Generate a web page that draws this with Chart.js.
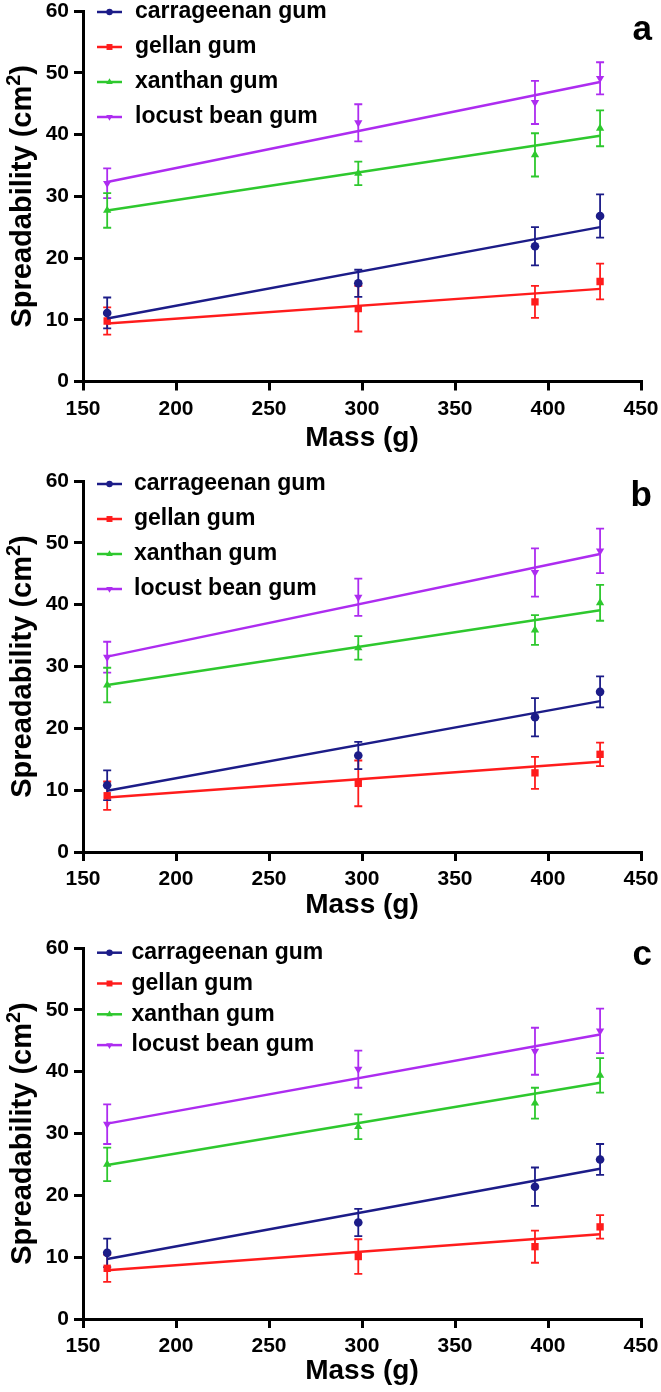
<!DOCTYPE html>
<html>
<head>
<meta charset="utf-8">
<script src="https://cdn.jsdelivr.net/npm/chart.js@4.4.1/dist/chart.umd.min.js"></script>
<style>
html,body{margin:0;padding:0;background:#fff;}
body{width:661px;height:1392px;position:relative;overflow:hidden;}
.panel{position:absolute;left:0;width:661px;}
canvas{display:block;}
</style>
</head>
<body>
<div class="panel" style="top:0px;height:464px"><canvas id="c0" width="661" height="464"></canvas></div>
<div class="panel" style="top:464px;height:466px"><canvas id="c1" width="661" height="466"></canvas></div>
<div class="panel" style="top:930px;height:462px"><canvas id="c2" width="661" height="462"></canvas></div>
<script>
// ---------- DATA ----------
const massX = [163, 298, 393, 428];
const fitX = [163, 428];
const xTickValues = [150, 200, 250, 300, 350, 400, 450];
const yTickValues = [0, 10, 20, 30, 40, 50, 60];
const seriesNames = ['carrageenan gum', 'gellan gum', 'xanthan gum', 'locust bean gum'];
const panelLetters = ['a', 'b', 'c'];
const xTitle = 'Mass (g)';
const yTitleMain = 'Spreadability (cm';
const yTitleSup = '2';
const yTitleEnd = ')';

// Panel a
const carrageenanA = [11.1, 15.9, 21.9, 26.8];
const carrageenanErrA = [2.5, 2.2, 3.1, 3.5];
const carrageenanFitA = [10.2, 25.0];
const gellanA = [9.8, 11.8, 12.9, 16.2];
const gellanErrA = [2.2, 3.7, 2.6, 2.9];
const gellanFitA = [9.4, 15.0];
const xanthanA = [27.7, 33.7, 36.7, 41.0];
const xanthanErrA = [2.8, 1.9, 3.5, 2.9];
const xanthanFitA = [27.7, 39.8];
const locustA = [32.1, 41.9, 45.2, 49.1];
const locustErrA = [2.4, 3.0, 3.5, 2.6];
const locustFitA = [32.3, 48.5];

// Panel b
const carrageenanB = [10.8, 15.6, 21.8, 25.9];
const carrageenanErrB = [2.4, 2.2, 3.1, 2.5];
const carrageenanFitB = [9.9, 24.4];
const gellanB = [9.1, 11.1, 12.8, 15.8];
const gellanErrB = [2.3, 3.7, 2.6, 1.9];
const gellanFitB = [8.8, 14.6];
const xanthanB = [27.0, 33.0, 35.9, 40.3];
const xanthanErrB = [2.8, 1.9, 2.4, 2.9];
const xanthanFitB = [27.0, 39.1];
const locustB = [31.5, 41.2, 45.2, 48.7];
const locustErrB = [2.5, 3.0, 3.9, 3.6];
const locustFitB = [31.6, 48.2];

// Panel c
const carrageenanC = [10.7, 15.6, 21.4, 25.8];
const carrageenanErrC = [2.3, 2.2, 3.1, 2.5];
const carrageenanFitC = [9.7, 24.3];
const gellanC = [8.2, 10.1, 11.7, 14.9];
const gellanErrC = [2.2, 2.8, 2.6, 1.9];
const gellanFitC = [7.9, 13.7];
const xanthanC = [25.0, 31.1, 34.9, 39.4];
const xanthanErrC = [2.7, 2.0, 2.5, 2.8];
const xanthanFitC = [24.9, 38.2];
const locustC = [31.5, 40.4, 43.3, 46.6];
const locustErrC = [3.2, 3.0, 3.8, 3.6];
const locustFitC = [31.6, 46.0];

const panelMeans = [
  [carrageenanA, gellanA, xanthanA, locustA],
  [carrageenanB, gellanB, xanthanB, locustB],
  [carrageenanC, gellanC, xanthanC, locustC]
];
const panelErrs = [
  [carrageenanErrA, gellanErrA, xanthanErrA, locustErrA],
  [carrageenanErrB, gellanErrB, xanthanErrB, locustErrB],
  [carrageenanErrC, gellanErrC, xanthanErrC, locustErrC]
];
const panelFits = [
  [carrageenanFitA, gellanFitA, xanthanFitA, locustFitA],
  [carrageenanFitB, gellanFitB, xanthanFitB, locustFitB],
  [carrageenanFitC, gellanFitC, xanthanFitC, locustFitC]
];

// ---------- STYLE / LAYOUT ----------
const FONT = "'Liberation Sans', Arial, sans-serif";
const seriesColors = ['#1c1c88', '#ff1c1c', '#2ec82e', '#ad2cf0'];
const pointStyles = ['circle', 'rect', 'triangle', 'triangle'];
const pointRotations = [0, 0, 0, 180];
const pointRadii = [4.3, 5.2, 4.8, 4.8];
const legendRadii = [3.2, 4.2, 3.8, 3.8];

const layouts = [
  {h: 464, chartTop: 11, chartBottom: 381.5, titleCY: 438, legY0: 12, legDy: 35, legTextX: 135, letterBase: 40},
  {h: 466, chartTop: 17, chartBottom: 388, titleCY: 441.7, legY0: 20, legDy: 35, legTextX: 134, letterBase: 42},
  {h: 462, chartTop: 18, chartBottom: 389, titleCY: 441.7, legY0: 22.7, legDy: 30.8, legTextX: 131.5, letterBase: 35}
];
const CHART_LEFT = 83, CHART_RIGHT = 641, XAXIS_H = 72;

function makeChart(p) {
  const L = layouts[p];
  const means = panelMeans[p], errs = panelErrs[p], fits = panelFits[p];
  const datasets = [];
  for (let s = 0; s < seriesNames.length; s++) {
    datasets.push({
      type: 'scatter',
      label: seriesNames[s],
      data: massX.map((x, i) => ({x: x, y: means[s][i]})),
      pointStyle: pointStyles[s],
      rotation: pointRotations[s],
      pointRadius: pointRadii[s],
      pointBorderWidth: 0,
      backgroundColor: seriesColors[s],
      borderColor: seriesColors[s],
      showLine: false
    });
    datasets.push({
      type: 'line',
      label: seriesNames[s] + ' fit',
      data: fitX.map((x, i) => ({x: x, y: fits[s][i]})),
      borderColor: seriesColors[s],
      borderWidth: 2.5,
      pointRadius: 0,
      fill: false,
      tension: 0
    });
  }

  const customPlugin = {
    id: 'custom' + p,
    beforeDatasetsDraw(chart) {
      const {ctx, scales: {x, y}} = chart;
      ctx.save();
      ctx.lineWidth = 1.8;
      for (let s = seriesNames.length - 1; s >= 0; s--) {
        ctx.strokeStyle = seriesColors[s];
        for (let i = 0; i < massX.length; i++) {
          const px = x.getPixelForValue(massX[i]);
          const yt = y.getPixelForValue(means[s][i] + errs[s][i]);
          const yb = y.getPixelForValue(means[s][i] - errs[s][i]);
          ctx.beginPath();
          ctx.moveTo(px, yt); ctx.lineTo(px, yb);
          ctx.moveTo(px - 4, yt); ctx.lineTo(px + 4, yt);
          ctx.moveTo(px - 4, yb); ctx.lineTo(px + 4, yb);
          ctx.stroke();
        }
      }
      ctx.restore();
    },
    afterDraw(chart) {
      const {ctx, chartArea: ca} = chart;
      ctx.save();
      // legend
      for (let s = 0; s < seriesNames.length; s++) {
        const ly = L.legY0 + s * L.legDy;
        ctx.strokeStyle = seriesColors[s];
        ctx.lineWidth = 2.5;
        ctx.beginPath();
        ctx.moveTo(97, ly); ctx.lineTo(122, ly);
        ctx.stroke();
        ctx.fillStyle = seriesColors[s];
        Chart.helpers.drawPoint(ctx, {pointStyle: pointStyles[s], rotation: pointRotations[s], radius: legendRadii[s], borderWidth: 0}, 109.5, ly);
        ctx.fillStyle = '#000';
        ctx.font = 'bold 23px ' + FONT;
        ctx.textAlign = 'left';
        ctx.textBaseline = 'middle';
        ctx.fillText(seriesNames[s], L.legTextX, ly);
      }
      // panel letter
      ctx.fillStyle = '#000';
      ctx.font = 'bold 35px ' + FONT;
      ctx.textAlign = 'right';
      ctx.textBaseline = 'alphabetic';
      ctx.fillText(panelLetters[p], 652, L.letterBase);
      // y title with superscript
      const big = 'bold 29px ' + FONT, small = 'bold 20px ' + FONT;
      ctx.font = big;
      const w1 = ctx.measureText(yTitleMain).width;
      const w3 = ctx.measureText(yTitleEnd).width;
      ctx.font = small;
      const w2 = ctx.measureText(yTitleSup).width;
      ctx.translate(23, (ca.top + ca.bottom) / 2);
      ctx.rotate(-Math.PI / 2);
      ctx.textAlign = 'left';
      ctx.textBaseline = 'middle';
      let x0 = -(w1 + w2 + w3) / 2;
      ctx.font = big;
      ctx.fillText(yTitleMain, x0, 0);
      ctx.font = small;
      ctx.fillText(yTitleSup, x0 + w1, -9);
      ctx.font = big;
      ctx.fillText(yTitleEnd, x0 + w1 + w2, 0);
      ctx.restore();
    }
  };

  const tickFont = {family: FONT, size: 21, weight: 'bold'};
  const gridOpts = {drawOnChartArea: false, drawTicks: true, tickLength: 9, tickWidth: 3, lineWidth: 3, color: '#000'};
  const borderOpts = {display: true, width: 3, color: '#000'};

  new Chart(document.getElementById('c' + p), {
    type: 'scatter',
    data: {datasets: datasets},
    options: {
      responsive: false,
      animation: false,
      events: [],
      layout: {padding: {top: L.chartTop, left: 0, right: 661 - CHART_RIGHT, bottom: L.h - L.chartBottom - XAXIS_H}},
      plugins: {legend: {display: false}, tooltip: {enabled: false}},
      scales: {
        x: {
          type: 'linear', min: xTickValues[0], max: xTickValues[xTickValues.length - 1],
          afterBuildTicks: a => { a.ticks = xTickValues.map(v => ({value: v})); },
          ticks: {font: tickFont, color: '#000', padding: 6, maxRotation: 0, autoSkip: false},
          grid: gridOpts, border: borderOpts,
          title: {display: true, text: xTitle, color: '#000', font: {family: FONT, size: 28, weight: 'bold', lineHeight: 1},
                  padding: {top: 0, bottom: L.chartBottom + XAXIS_H - 14 - L.titleCY}},
          afterFit: a => { a.height = XAXIS_H; a.paddingLeft = 0; a.paddingRight = 0; }
        },
        y: {
          type: 'linear', min: yTickValues[0], max: yTickValues[yTickValues.length - 1],
          afterBuildTicks: a => { a.ticks = yTickValues.map(v => ({value: v})); },
          ticks: {font: tickFont, color: '#000', padding: 5},
          grid: gridOpts, border: borderOpts,
          title: {display: false},
          afterFit: a => { a.width = CHART_LEFT; a.paddingTop = 0; a.paddingBottom = 0; }
        }
      }
    },
    plugins: [customPlugin]
  });
}
for (let p = 0; p < 3; p++) makeChart(p);
</script>
</body>
</html>
